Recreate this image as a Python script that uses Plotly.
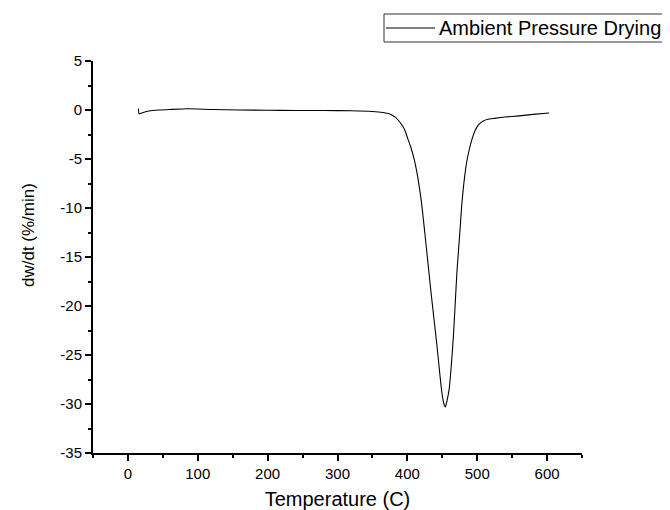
import plotly.graph_objects as go

temperature = [15, 16, 18, 22, 30, 45, 60, 85, 120, 160, 200, 240, 280, 320, 350, 365,
               375, 383, 390, 396, 400, 405, 410, 414, 417, 420, 423, 427, 434, 442, 449, 452, 454.5,
               457, 460, 463, 466, 468, 471, 475, 478, 482, 486, 492, 497, 502, 508, 515, 525,
               540, 560, 580, 603]
dwdt = [0.15, -0.4, -0.35, -0.25, -0.1, 0.0, 0.05, 0.12, 0.05, 0.0, -0.02, -0.05, -0.05,
        -0.08, -0.15, -0.25, -0.4, -0.75, -1.3, -2.0, -2.8, -3.8, -5.1, -6.5, -7.8, -9.3,
        -11.2, -13.9, -18.7, -23.8, -28.6, -29.9, -30.3,
        -29.6, -28.4, -26.0, -23.0, -20.4, -16.5, -12.6, -9.6, -6.8, -4.9, -3.1, -2.1,
        -1.5, -1.15, -0.95, -0.85, -0.72, -0.6, -0.45, -0.3]

y_tick_values = [5, 0, -5, -10, -15, -20, -25, -30, -35]
y_tick_labels = ["5", "0", "-5", "-10", "-15", "-20", "-25", "-30", "-35"]
x_tick_values = [0, 100, 200, 300, 400, 500, 600]
x_tick_labels = ["0", "100", "200", "300", "400", "500", "600"]

series_name = "Ambient Pressure Drying"
x_title = "Temperature (C)"
y_title = "dw/dt (%/min)"

font_family = "Liberation Sans, Arial, sans-serif"
line_color = "black"

fig = go.Figure()
fig.add_trace(go.Scatter(x=temperature, y=dwdt, mode="lines", name=series_name,
                         showlegend=False,
                         line=dict(color=line_color, width=1.1, shape="spline", smoothing=0.5)))

axis_common = dict(showline=True, linecolor="black", linewidth=2, mirror=False,
                   ticks="outside", ticklen=6, tickwidth=2, tickcolor="black",
                   showgrid=False, zeroline=False, automargin=False,
                   tickfont=dict(family=font_family, size=15, color="black"))

# legend box (drawn in paper coordinates, above the plot area)
leg_x0, leg_x1, leg_y0, leg_y1 = 0.5951, 1.1718, 1.0485, 1.1199
leg_yc = (leg_y0 + leg_y1) / 2
shapes = [
    dict(type="rect", xref="paper", yref="paper", x0=leg_x0, x1=leg_x1, y0=leg_y0, y1=leg_y1,
         line=dict(color="#333", width=1), fillcolor="white", layer="above"),
    dict(type="line", xref="paper", yref="paper", x0=0.5992, x1=0.6994, y0=leg_yc, y1=leg_yc,
         line=dict(color=line_color, width=1.1), layer="above"),
]

fig.update_layout(
    width=662, height=502,
    margin=dict(l=85, r=88, t=53, b=57, autoexpand=False),
    paper_bgcolor="white", plot_bgcolor="white",
    font=dict(family=font_family, color="black"),
    showlegend=False,
    xaxis=dict(range=[-50, 650], tickvals=x_tick_values, ticktext=x_tick_labels,
               minor=dict(ticks="outside", ticklen=3, tickwidth=2, dtick=50, tick0=0, tickcolor="black"),
               title=dict(text=x_title, font=dict(family=font_family, size=20), standoff=12),
               **axis_common),
    yaxis=dict(range=[-35, 5], tickvals=y_tick_values, ticktext=y_tick_labels,
               minor=dict(ticks="outside", ticklen=3, tickwidth=2, dtick=2.5, tick0=0, tickcolor="black"),
               **axis_common),
    shapes=shapes,
    annotations=[
        dict(text=y_title, textangle=-90, xref="paper", yref="paper",
             x=-0.1319, y=0.5548, xanchor="center", yanchor="middle",
             showarrow=False, font=dict(family=font_family, size=17, color="black")),
        dict(text=series_name, xref="paper", yref="paper",
             x=0.7035, y=leg_yc, xanchor="left", yanchor="middle",
             showarrow=False, font=dict(family=font_family, size=20, color="black")),
    ],
)

fig.write_html("out.html")
